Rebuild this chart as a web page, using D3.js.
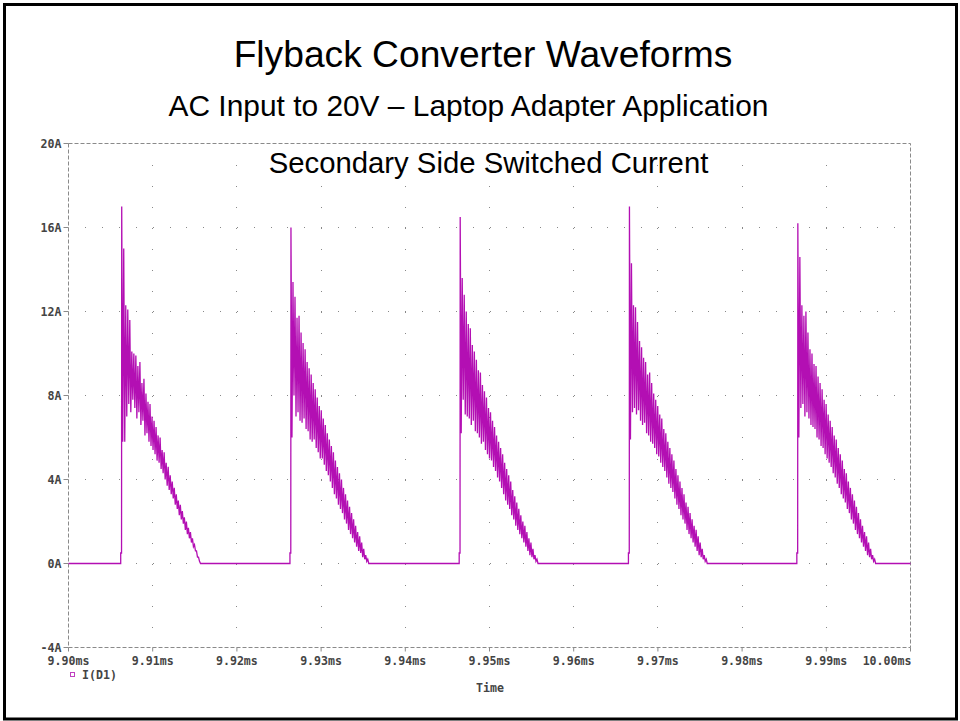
<!DOCTYPE html>
<html lang="en">
<head>
  <meta charset="UTF-8">
  <title>Flyback Converter Waveforms</title>
  <style>
    body { margin: 0; background: #fff; }
    .title { font-family: "Liberation Sans", Arial, sans-serif; fill: #000; text-anchor: middle; }
    .axis-label { font-family: "DejaVu Sans Mono", monospace; font-size: 11.6px; font-weight: bold; fill: #444; }
    .grid-dot { fill: #888; }
  </style>
</head>
<body>
  <div id="chart"></div>

  <script src="https://d3js.org/d3.v7.min.js"></script>
  <script>
    // tick labels
    const xTicks = [9.90, 9.91, 9.92, 9.93, 9.94, 9.95, 9.96, 9.97, 9.98, 9.99, 10.00];
    const yTicks = [-4, 0, 4, 8, 12, 16, 20];

    // start time (ms) of each conduction pulse of D1
    const pulseStart = [9.9062, 9.9263, 9.9464, 9.9665, 9.9865];
    const stepLevel = 0.5;      // small pre-step before the main edge (A)
    const sampleStep = 0.00024; // ms between ringing crests

    // ringing crests (hi) and troughs (lo) per pulse, in A
    const pulse1Hi = [17.0,15.0,12.3,12.1,11.6,10.1,10.0,9.9,9.4,9.6,8.6,8.8,8.1,7.7,7.6,7.0,6.8,6.5,6.1,6.0,5.4,5.3,4.8,4.6,4.2,3.9,3.6,3.3,3.0,2.8,2.5,2.2,2.0,1.7,1.5,1.2,0.9,0.6,0.3];
    const pulse1Lo = [5.8,5.8,7.0,7.6,7.2,7.8,7.4,6.9,7.2,6.6,6.8,6.1,6.2,5.8,5.6,5.4,5.2,4.9,4.8,4.5,4.3,4.0,3.7,3.5,3.3,3.1,2.8,2.6,2.3,2.1,1.9,1.6,1.4,1.2,1.0,0.8,0.6,0.3,0.1];
    const pulse2Hi = [16.0,13.4,12.7,11.7,11.8,11.0,10.5,10.2,9.6,9.3,9.0,8.6,8.3,7.9,7.5,7.3,6.9,6.6,6.2,5.9,5.6,5.3,4.9,4.6,4.3,4.0,3.6,3.3,3.0,2.7,2.4,2.1,1.8,1.5,1.3,1.0,0.7,0.4,0.2];
    const pulse2Lo = [6.0,8.0,7.0,7.2,6.8,6.7,6.9,6.4,6.3,5.9,5.8,5.9,5.5,5.3,5.0,5.0,4.7,4.4,4.2,3.9,3.6,3.3,3.1,2.8,2.6,2.4,2.1,1.9,1.6,1.4,1.2,1.0,0.8,0.6,0.5,0.3,0.2,0.1,0.0];
    const pulse3Hi = [16.5,13.6,12.8,12.0,11.4,11.2,10.4,10.1,9.7,9.2,9.1,8.5,8.2,7.9,7.4,7.2,6.8,6.5,6.1,5.8,5.5,5.2,4.8,4.5,4.2,3.9,3.5,3.2,2.9,2.6,2.3,2.0,1.8,1.5,1.2,1.0,0.7,0.4,0.2];
    const pulse3Lo = [6.2,7.8,7.1,7.0,6.9,6.6,6.8,6.3,6.2,6.0,5.7,5.8,5.4,5.2,5.0,4.9,4.6,4.4,4.1,3.9,3.6,3.3,3.0,2.8,2.6,2.3,2.1,1.8,1.6,1.4,1.2,1.0,0.8,0.6,0.4,0.3,0.2,0.1,0.0];
    const pulse4Hi = [17.0,14.3,12.3,12.2,11.5,10.6,10.3,9.8,9.6,9.0,9.1,8.6,8.1,7.8,7.5,7.1,6.9,6.4,6.2,5.8,5.5,5.2,4.9,4.5,4.2,3.9,3.6,3.3,2.9,2.7,2.4,2.1,1.8,1.6,1.3,1.0,0.7,0.4,0.2];
    const pulse4Lo = [5.9,7.2,7.4,7.1,7.3,6.8,6.6,6.7,6.2,6.1,5.8,5.7,5.5,5.2,5.1,4.8,4.6,4.4,4.1,3.8,3.6,3.4,3.1,2.8,2.6,2.3,2.1,1.9,1.6,1.4,1.2,1.0,0.8,0.6,0.4,0.3,0.2,0.1,0.0];
    const pulse5Hi = [16.2,14.6,12.3,11.8,12.0,11.0,10.2,10.0,9.5,9.4,8.9,8.6,8.3,7.8,7.6,7.1,6.8,6.5,6.1,5.9,5.5,5.2,4.9,4.5,4.3,3.9,3.6,3.3,3.0,2.7,2.4,2.1,1.8,1.5,1.3,1.0,0.7,0.4,0.2];
    const pulse5Lo = [6.0,7.4,7.6,7.0,7.2,6.9,6.6,6.5,6.4,6.0,5.9,5.6,5.5,5.2,5.0,4.8,4.6,4.3,4.1,3.8,3.6,3.3,3.1,2.9,2.6,2.4,2.1,1.9,1.6,1.4,1.2,1.0,0.8,0.6,0.4,0.3,0.2,0.1,0.0];

    const pulseHi = [pulse1Hi, pulse2Hi, pulse3Hi, pulse4Hi, pulse5Hi];
    const pulseLo = [pulse1Lo, pulse2Lo, pulse3Lo, pulse4Lo, pulse5Lo];

    const width = 960;
    const height = 721;
    const plot = { left: 68.5, right: 910.5, top: 143.5, bottom: 647.5 };
    const traceColor = "#b30fb3";

    const svg = d3.select("#chart")
      .append("svg")
      .attr("width", width)
      .attr("height", height);

    // outer black frame
    svg.append("rect")
      .attr("x", 4.5).attr("y", 4.5)
      .attr("width", 952).attr("height", 714.5)
      .attr("fill", "none")
      .attr("stroke", "#000")
      .attr("stroke-width", 3);

    // titles
    svg.append("text").attr("class", "title")
      .attr("x", 483).attr("y", 67).style("font-size", "37.2px")
      .text("Flyback Converter Waveforms");
    svg.append("text").attr("class", "title")
      .attr("x", 468.5).attr("y", 116).style("font-size", "29.9px")
      .text("AC Input to 20V \u2013 Laptop Adapter Application");

    const x = d3.scaleLinear().domain([9.90, 10.00]).range([plot.left, plot.right]);
    const y = d3.scaleLinear().domain([-4, 20]).range([plot.bottom, plot.top]);

    // dotted grid: horizontal rows at major A, dots every 0.002ms
    const grid = svg.append("g");
    const minorX = d3.range(1, 50).map(i => 9.90 + i * 0.002);
    const minorY = d3.range(-3, 20).map(v => v);
    yTicks.filter(v => v > -4 && v < 20).forEach(v => {
      grid.selectAll(null).data(minorX).join("rect")
        .attr("class", "grid-dot")
        .attr("x", d => Math.round(x(d)))
        .attr("y", Math.floor(y(v)))
        .attr("width", 1).attr("height", 1);
    });
    xTicks.slice(1, -1).forEach(t => {
      grid.selectAll(null).data(minorY).join("rect")
        .attr("class", "grid-dot")
        .attr("x", Math.floor(x(t)))
        .attr("y", d => Math.round(y(d)))
        .attr("width", 1).attr("height", 1);
    });

    // dashed plot frame
    svg.append("rect")
      .attr("x", plot.left).attr("y", plot.top)
      .attr("width", plot.right - plot.left)
      .attr("height", plot.bottom - plot.top)
      .attr("fill", "none")
      .attr("stroke", "#8a8a8a")
      .attr("stroke-dasharray", "4,2");

    // axes ticks + labels
    const yAxis = svg.append("g");
    yAxis.selectAll("line").data(yTicks).join("line")
      .attr("x1", plot.left - 5).attr("x2", plot.left)
      .attr("y1", d => y(d)).attr("y2", d => y(d))
      .attr("stroke", "#8a8a8a");
    yAxis.selectAll("text").data(yTicks).join("text")
      .attr("class", "axis-label")
      .attr("x", plot.left - 7)
      .attr("y", d => y(d) + 4)
      .attr("text-anchor", "end")
      .text(d => d + "A");

    const xAxis = svg.append("g");
    xAxis.selectAll("line").data(xTicks).join("line")
      .attr("x1", d => x(d)).attr("x2", d => x(d))
      .attr("y1", plot.bottom).attr("y2", plot.bottom + 4)
      .attr("stroke", "#8a8a8a");
    xAxis.selectAll("text").data(xTicks).join("text")
      .attr("class", "axis-label")
      .attr("x", (d, i) => i === xTicks.length - 1 ? plot.right + 1 : x(d))
      .attr("y", 665)
      .attr("text-anchor", (d, i) => i === xTicks.length - 1 ? "end" : "middle")
      .text(d => d.toFixed(2) + "ms");

    svg.append("text").attr("class", "axis-label")
      .attr("x", 490).attr("y", 692)
      .attr("text-anchor", "middle")
      .text("Time");

    // legend
    svg.append("rect")
      .attr("x", 70.5).attr("y", 672.5)
      .attr("width", 4).attr("height", 4)
      .attr("fill", "none")
      .attr("stroke", "#c040c0");
    svg.append("text").attr("class", "axis-label")
      .attr("x", 82).attr("y", 679)
      .text("I(D1)");

    // build the trace I(D1)
    const trace = [[9.90, 0]];
    pulseStart.forEach((t0, p) => {
      trace.push([t0, 0], [t0, stepLevel], [t0 + 0.0001, stepLevel]);
      pulseHi[p].forEach((hi, k) => {
        const t = t0 + 0.00012 + k * sampleStep;
        trace.push([t, hi], [t + sampleStep / 2, pulseLo[p][k]]);
      });
      const tEnd = t0 + 0.00012 + pulseHi[p].length * sampleStep;
      trace.push([tEnd, 0]);
    });
    trace.push([10.00, 0]);

    const line = d3.line()
      .x(d => x(d[0]))
      .y(d => y(d[1]));

    svg.append("path")
      .datum(trace)
      .attr("fill", "none")
      .attr("stroke", traceColor)
      .attr("stroke-width", 1.3)
      .attr("d", line);

    svg.append("text").attr("class", "title")
      .attr("x", 488.5).attr("y", 173).style("font-size", "29.3px")
      .text("Secondary Side Switched Current");
  </script>
</body>
</html>
